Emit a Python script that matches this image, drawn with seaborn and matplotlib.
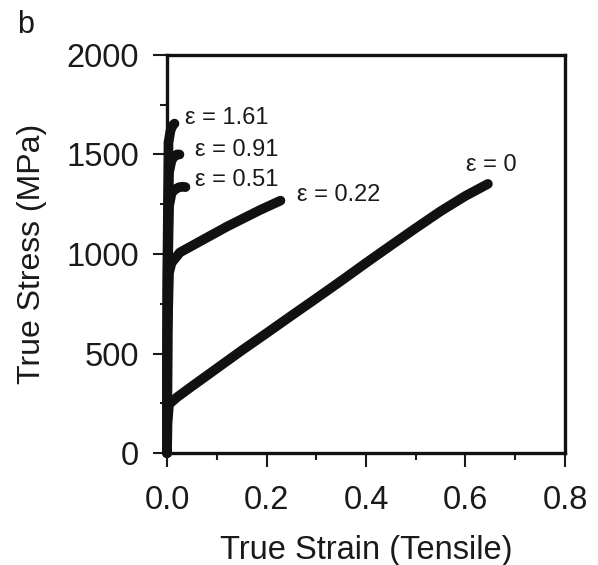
import numpy as np
import pandas as pd
import matplotlib
matplotlib.use("Agg")
import matplotlib.pyplot as plt
import seaborn as sns
from matplotlib.ticker import MultipleLocator

sns.set_theme(style="ticks")
plt.rcParams['font.family'] = ['Liberation Sans', 'DejaVu Sans']

# Data (true strain, true stress in MPa)
strain_e0 = [0.0, 0.001, 0.004, 0.02, 0.05, 0.10, 0.15, 0.20, 0.25, 0.30, 0.35, 0.40, 0.45, 0.50, 0.55, 0.60, 0.645]
stress_e0 = [0, 150, 245, 280, 335, 425, 515, 602, 690, 777, 865, 955, 1043, 1130, 1215, 1292, 1352]

strain_e022 = [0.0, 0.001, 0.004, 0.009, 0.026, 0.053, 0.12, 0.187, 0.228]
stress_e022 = [0, 600, 905, 955, 1008, 1045, 1137, 1221, 1268]

strain_e051 = [0.0, 0.001, 0.004, 0.009, 0.016, 0.024, 0.031, 0.037]
stress_e051 = [0, 800, 1240, 1305, 1325, 1335, 1338, 1336]

strain_e091 = [0.0, 0.001, 0.004, 0.009, 0.015, 0.020, 0.025]
stress_e091 = [0, 900, 1410, 1470, 1492, 1500, 1500]

strain_e161 = [0.0, 0.001, 0.003, 0.007, 0.011, 0.015]
stress_e161 = [0, 1000, 1560, 1620, 1645, 1655]

labels = ["ε = 0", "ε = 0.22", "ε = 0.51", "ε = 0.91", "ε = 1.61"]
label_x = [0.602, 0.261, 0.056, 0.056, 0.037]
label_y = [1447, 1297, 1372, 1522, 1683]

xticks = [0.0, 0.2, 0.4, 0.6, 0.8]
yticks = [0, 500, 1000, 1500, 2000]

curves = [
    (strain_e0, stress_e0),
    (strain_e022, stress_e022),
    (strain_e051, stress_e051),
    (strain_e091, stress_e091),
    (strain_e161, stress_e161),
]

fig = plt.figure(figsize=(5.98, 5.65), dpi=100)
ax = fig.add_axes([0.2793, 0.1982, 0.6655, 0.7045])

for (sx, sy), lab in zip(curves, labels):
    df = pd.DataFrame({"strain": sx, "stress": sy})
    sns.lineplot(data=df, x="strain", y="stress", sort=False, estimator=None,
                 color="#111111", linewidth=7, ax=ax,
                 solid_capstyle="round", solid_joinstyle="round", clip_on=False)

for lab, tx, ty in zip(labels, label_x, label_y):
    ax.text(tx, ty, lab, fontsize=17, color="#1a1a1a", ha="left", va="center")

ax.set_xlim(0, 0.8)
ax.set_ylim(0, 2000)
ax.set_xticks(xticks)
ax.set_yticks(yticks)
ax.set_xticklabels([f"{v:.1f}" for v in xticks])
ax.set_yticklabels([str(v) for v in yticks])
ax.xaxis.set_minor_locator(MultipleLocator(0.1))
ax.yaxis.set_minor_locator(MultipleLocator(250))

ax.tick_params(axis="both", which="major", direction="out", length=10, width=1.5,
               labelsize=23.5, colors="#1a1a1a")
ax.tick_params(axis="both", which="minor", direction="out", length=5, width=1.5, colors="#1a1a1a")
ax.tick_params(axis="x", which="major", pad=13)
ax.tick_params(axis="y", which="major", pad=10)

for sp in ax.spines.values():
    sp.set_linewidth(2.4)
    sp.set_color("#111111")
    sp.set_visible(True)

ax.set_xlabel("True Strain (Tensile)", fontsize=23.5, color="#1a1a1a", labelpad=14)
ax.set_ylabel("True Stress (MPa)", fontsize=23, color="#1a1a1a", labelpad=14)

fig.text(17 / 598, 1 - 33 / 565, "b", fontsize=22, color="#1a1a1a", ha="left", va="baseline")

fig.savefig("out.png", dpi=100)
